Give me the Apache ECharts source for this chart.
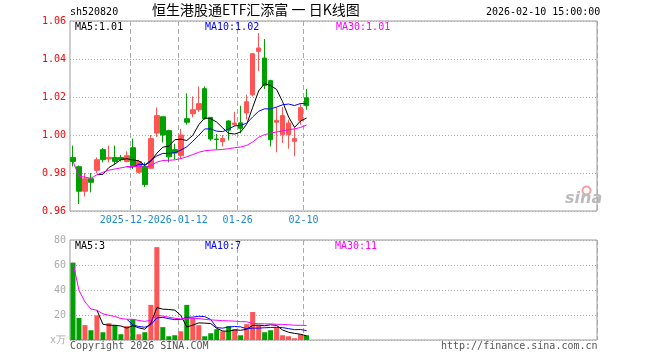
<!DOCTYPE html>
<html><head><meta charset="utf-8">
<script src="https://cdn.jsdelivr.net/npm/echarts@6/dist/echarts.min.js"></script>
<style>html,body{margin:0;padding:0;background:#fff}#c{width:660px;height:360px}</style>
</head><body><div id="c"></div>
<script>
// ---------- data ----------
const dates = ['2025-12-15','2025-12-16','2025-12-17','2025-12-18','2025-12-19','2025-12-22','2025-12-23','2025-12-24','2025-12-25','2025-12-26',
  '2025-12-29','2025-12-30','2025-12-31','2026-01-05','2026-01-06','2026-01-07','2026-01-08','2026-01-09','2026-01-12','2026-01-13',
  '2026-01-14','2026-01-15','2026-01-16','2026-01-19','2026-01-20','2026-01-21','2026-01-22','2026-01-23','2026-01-26','2026-01-27',
  '2026-01-28','2026-01-29','2026-01-30','2026-02-02','2026-02-03','2026-02-04','2026-02-05','2026-02-06','2026-02-09','2026-02-10'];
const openP  = [.9882,.9833,.9704,.9770,.9814,.9923,.9874,.9882,.9882,.9861,.9933,.9804,.9835,.9825,1.0010,1.0096,1.0023,.9923,.9891,1.0086,
  1.0112,1.0133,1.0244,1.0093,.9979,.9965,1.0074,1.0054,1.0064,1.0116,1.0212,1.0440,1.0405,1.0286,1.0067,1.0002,1.0002,.9967,1.0077,1.0196];
const closeP = [.9861,.9704,.9770,.9751,.9870,.9870,.9882,.9861,.9870,.9891,.9839,.9860,.9739,.9981,1.0102,1.0000,.9885,.9905,1.0000,1.0067,
  1.0133,1.0165,1.0086,.9979,.9976,.9981,1.0025,1.0063,1.0035,1.0175,1.0428,1.0458,1.0260,.9975,1.0077,1.0102,1.0063,.9981,1.0144,1.0154];
const highP  = [.9944,.9840,.9800,.9800,.9882,.9932,.9944,.9944,.9895,.9914,.9981,.9870,.9856,1.0000,1.0145,1.0096,1.0028,.9954,1.0032,1.0219,
  1.0203,1.0255,1.0256,1.0093,1.0005,1.0000,1.0078,1.0122,1.0154,1.0212,1.0430,1.0537,1.0505,1.0291,1.0147,1.0147,1.0081,1.0040,1.0168,1.0242];
const lowP   = [.9835,.9637,.9677,.9698,.9800,.9856,.9856,.9845,.9861,.9856,.9821,.9797,.9726,.9821,.9990,.9961,.9856,.9872,.9876,1.0055,
  1.0093,1.0122,1.0080,.9970,.9923,.9940,.9972,1.0046,1.0009,1.0081,1.0203,1.0335,1.0242,.9940,.9909,.9958,.9928,.9888,1.0054,1.0133];
const ma5  = [null,null,null,null,.9791,.9793,.9829,.9847,.9871,.9875,.9869,.9864,.9840,.9862,.9904,.9936,.9941,.9975,.9978,.9971,
  .9998,1.0054,1.0090,1.0086,1.0068,1.0037,1.0009,1.0005,1.0016,1.0056,1.0145,1.0232,1.0271,1.0260,1.0240,1.0175,1.0095,1.0040,1.0074,1.0089];
const ma10 = [null,null,null,null,null,null,null,null,null,.9833,.9831,.9846,.9843,.9866,.9890,.9903,.9903,.9907,.9920,.9938,
  .9967,.9998,1.0032,1.0032,1.0020,1.0018,1.0032,1.0048,1.0051,1.0062,1.0095,1.0125,1.0138,1.0137,1.0147,1.0159,1.0163,1.0155,1.0166,1.0164];
const ma30 = [.9861,.9783,.9778,.9772,.9791,.9804,.9815,.9821,.9827,.9833,.9834,.9836,.9829,.9839,.9857,.9866,.9867,.9869,.9876,.9885,
  .9897,.9909,.9917,.9920,.9922,.9924,.9928,.9933,.9937,.9945,.9963,.9988,1.0002,1.0010,1.0016,1.0022,1.0028,1.0032,1.0040,1.0052];
const volume = [61.9,17.6,11.9,7.8,19.7,6.2,13.5,11.9,4.6,11.1,16.5,4.6,6.2,28.1,74.3,10.3,3.0,3.8,7.0,28.1,
  17.6,11.9,3.0,5.4,8.6,7.0,11.1,8.6,3.8,12.7,22.4,11.9,6.2,7.8,10.3,3.8,3.0,1.4,4.6,3.8];
const volMa5  = [null,null,null,null,23.8,12.6,11.8,11.8,11.2,9.5,11.5,9.7,8.6,13.3,25.9,24.7,24.4,23.9,19.7,10.4,
  11.9,13.7,13.5,13.2,9.3,7.2,7.0,8.1,7.8,8.6,11.7,11.9,11.4,12.2,11.7,8.0,6.2,5.3,4.6,3.3];
const volMa10 = [null,null,null,null,null,null,null,null,null,16.6,12.1,10.8,10.2,12.2,17.7,18.1,17.1,16.3,16.5,18.2,
  18.3,19.0,18.7,16.4,9.9,9.5,10.4,10.8,10.5,9.0,9.5,9.5,9.8,10.0,10.2,9.9,9.1,8.3,8.4,7.5];
const volMa30 = [61.9,39.8,30.5,24.8,23.8,20.9,19.8,18.8,17.2,16.6,16.6,15.6,14.9,15.8,19.7,19.1,18.2,17.4,16.8,17.4,
  17.4,17.2,16.5,16.1,15.8,15.5,15.3,15.1,14.7,14.6,13.3,13.1,12.9,12.9,12.6,12.5,12.2,11.8,11.8,11.6];
const dateTickIdx = [10, 18, 28, 39];
const dateTickLabels = ['2025-12-29', '2026-01-12', '01-26', '02-10'];
const priceMin = 0.96, priceMax = 1.06, priceStep = 0.02;
const volMin = 0, volMax = 80, volStep = 20;
const SLOTS = 88;

// ---------- build ----------
const RED = '#ff5555', GREEN = '#00a000';
const MONO = "'DejaVu Sans Mono', monospace";
const cats = [];
for (let i = 0; i < SLOTS; i++) cats.push(i < dates.length ? dates[i] : 'e' + i);
const kData = dates.map((d, i) => [openP[i], closeP[i], lowP[i], highP[i]]);
const vData = volume.map((v, i) => ({ value: v, itemStyle: { color: closeP[i] >= openP[i] ? RED : GREEN } }));
const isTick = (i) => dateTickIdx.indexOf(i) >= 0;
const splitX = { show: true, interval: (i) => isTick(i), lineStyle: { color: '#aaa', type: [5, 3], width: 1 } };
// labels split over two axes so that the overlapping second label is drawn on top of the first
const labelSetA = [0, 2, 3], labelSetB = [1];
function dateLabel(set) {
  return { interval: (i) => set.some((k) => dateTickIdx[k] === i), hideOverlap: false, margin: 4,
    fontFamily: MONO, fontSize: 10, color: '#1e88d2', backgroundColor: '#fff', padding: [0, 6, 0, 0],
    formatter: (v, i) => { const k = dateTickIdx.indexOf(i); return k >= 0 ? dateTickLabels[k] : ''; } };
}

function txt(text, left, top, color, extra) {
  return Object.assign({ text: text, left: left, top: top, padding: 0,
    textStyle: { fontFamily: MONO, fontSize: 10, fontWeight: 'normal', color: color } }, extra || {});
}

const chart = echarts.init(document.getElementById('c'), null, { renderer: 'canvas' });
chart.setOption({
  animation: false,
  backgroundColor: '#fff',
  title: [
    txt('sh520820', 70, 7, '#000'),
    txt('恒生港股通ETF汇添富 一 日K线图', 152, 3, '#000', { textStyle: { fontFamily: "'Noto Sans CJK SC'", fontSize: 14, fontWeight: 'normal', color: '#000' } }),
    txt('2026-02-10 15:00:00', 486, 7, '#000'),
    txt('MA5:1.01', 75, 22, '#000'),
    txt('MA10:1.02', 205, 22, '#0000ff'),
    txt('MA30:1.01', 336, 22, '#ff00ff'),
    txt('MA5:3', 75, 241, '#000'),
    txt('MA10:7', 205, 241, '#0000ff'),
    txt('MA30:11', 335, 241, '#ff00ff'),
    txt('Copyright 2026 SINA.COM', 70, 341, '#555'),
    txt('http://finance.sina.com.cn', 441, 341, '#555')
  ],
  graphic: [
    { type: 'circle', left: 580, top: 184, shape: { r: 4 }, style: { fill: 'none', stroke: '#f7a0a0', lineWidth: 2 }, silent: true },
    { type: 'text', left: 565, top: 191, style: { text: 'sina', font: 'italic bold 16px "DejaVu Sans"', fill: '#bbbbbb' }, silent: true }
  ],
  grid: [
    { left: 70, width: 527, top: 21, height: 190, show: true, borderColor: '#999', borderWidth: 1, backgroundColor: 'transparent' },
    { left: 70, width: 527, top: 240, height: 100, show: true, borderColor: '#999', borderWidth: 1, backgroundColor: 'transparent' }
  ],
  xAxis: [
    { type: 'category', gridIndex: 0, data: cats, boundaryGap: true, position: 'bottom', offset: 0,
      axisLine: { show: false }, axisTick: { show: false },
      axisLabel: dateLabel(labelSetA),
      splitLine: splitX },
    { type: 'category', gridIndex: 1, data: cats, boundaryGap: true,
      axisLine: { show: false }, axisTick: { show: false }, axisLabel: { show: false },
      splitLine: splitX },
    { type: 'category', gridIndex: 0, data: cats, boundaryGap: true, position: 'bottom', offset: 0, z: 3,
      axisLine: { show: false }, axisTick: { show: false },
      axisLabel: dateLabel(labelSetB),
      splitLine: { show: false } }
  ],
  yAxis: [
    { type: 'value', gridIndex: 0, min: priceMin, max: priceMax, interval: priceStep, scale: true,
      axisLine: { show: false }, axisTick: { show: false },
      axisLabel: { margin: 4, fontFamily: MONO, fontSize: 10, color: '#ff0000', formatter: (v) => v.toFixed(2) },
      splitLine: { show: true, lineStyle: { color: '#aaa', type: [1, 2], width: 1 } } },
    { type: 'value', gridIndex: 1, min: volMin, max: volMax, interval: volStep,
      axisLine: { show: false }, axisTick: { show: false },
      axisLabel: { margin: 4, fontFamily: MONO, fontSize: 10, color: '#aaa', formatter: (v) => v === 0 ? 'x万' : String(v) },
      splitLine: { show: true, lineStyle: { color: '#aaa', type: [1, 2], width: 1 } } }
  ],
  series: [
    { type: 'candlestick', xAxisIndex: 0, yAxisIndex: 0, data: kData, barWidth: 5,
      itemStyle: { color: RED, color0: GREEN, borderColor: RED, borderColor0: GREEN, borderWidth: 1 } },
    { type: 'line', xAxisIndex: 0, yAxisIndex: 0, data: ma5, showSymbol: false, lineStyle: { color: '#000', width: 1 }, z: 5 },
    { type: 'line', xAxisIndex: 0, yAxisIndex: 0, data: ma10, showSymbol: false, lineStyle: { color: '#0000ff', width: 1 }, z: 5 },
    { type: 'line', xAxisIndex: 0, yAxisIndex: 0, data: ma30, showSymbol: false, lineStyle: { color: '#ff00ff', width: 1 }, z: 5 },
    { type: 'bar', xAxisIndex: 1, yAxisIndex: 1, data: vData, barWidth: 5 },
    { type: 'line', xAxisIndex: 1, yAxisIndex: 1, data: volMa5, showSymbol: false, lineStyle: { color: '#000', width: 1 }, z: 5 },
    { type: 'line', xAxisIndex: 1, yAxisIndex: 1, data: volMa10, showSymbol: false, lineStyle: { color: '#0000ff', width: 1 }, z: 5 },
    { type: 'line', xAxisIndex: 1, yAxisIndex: 1, data: volMa30, showSymbol: false, lineStyle: { color: '#ff00ff', width: 1 }, z: 5 }
  ]
});
</script>
</body></html>
